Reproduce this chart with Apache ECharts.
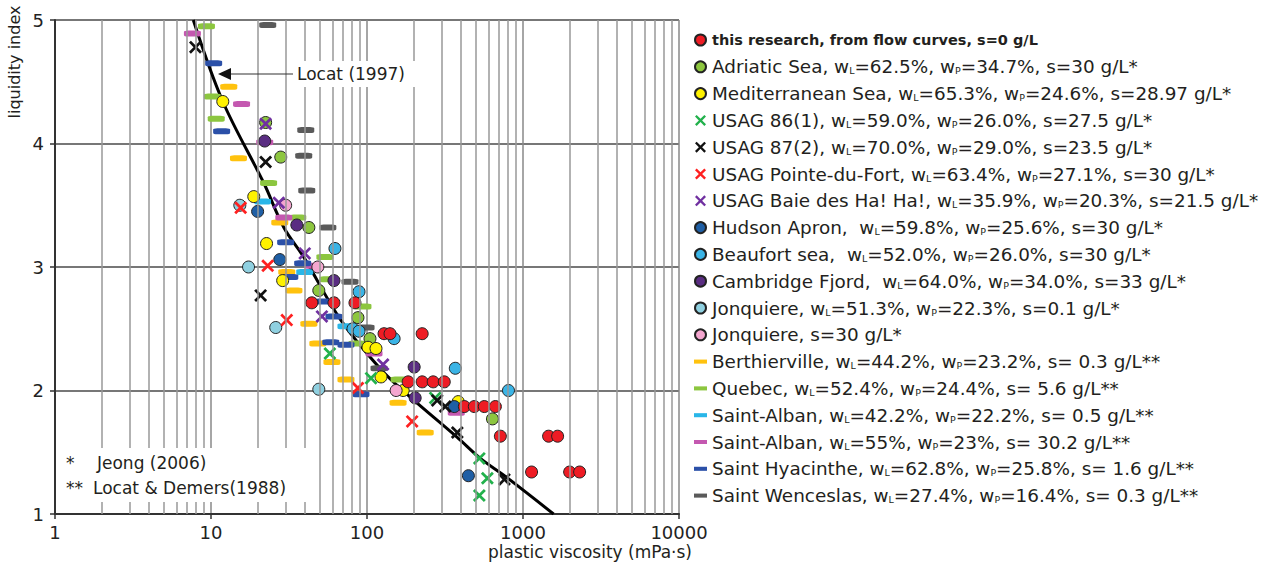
<!DOCTYPE html>
<html>
<head>
<meta charset="utf-8">
<script src="https://cdn.jsdelivr.net/npm/echarts@6/dist/echarts.min.js"></script>
<style>
  html, body { margin: 0; padding: 0; background: #fff; }
  #chart { width: 1266px; height: 566px; }
</style>
</head>
<body>
<div id="chart"></div>
<script>
var chart = echarts.init(document.getElementById('chart'), null, {renderer: 'svg'});

// points: [plastic viscosity (mPa.s), liquidity index]
var thisResearch = [[44.3,2.71],[61.4,2.71],[83.7,2.71],[128.6,2.46],[140.5,2.46],[225.8,2.46],
  [183.6,2.07],[225.8,2.07],[265.6,2.07],[312.8,2.07],[420.7,1.87],[487.5,1.87],[565,1.87],[665,1.87],
  [716,1.63],[1459,1.63],[1667,1.63],[1135,1.34],[1991,1.34],[2307,1.34]];
var adriatic = [[22.4,4.17],[28.0,3.89],[42.4,3.32],[49.1,2.81],[87.5,2.59],[104.5,2.42],[637,1.77]];
var mediterranean = [[11.9,4.34],[18.8,3.57],[22.7,3.19],[28.8,2.89],[101.5,2.35],[114.2,2.34],[123,2.11],[170.5,2.0],[384.6,1.91]];
var usag86 = [[57.8,2.30],[106.1,2.10],[273.6,1.94],[525,1.45],[591,1.29],[525,1.15]];
var usag87 = [[7.95,4.78],[22.4,3.85],[20.8,2.77],[281.9,1.92],[317.5,1.87],[379.3,1.66],[760,1.28]];
var pointeDuFort = [[15.5,3.48],[23.1,3.01],[30.6,2.57],[87.5,2.02],[194.7,1.75]];
var baieHaHa = [[22.4,4.16],[27.2,3.52],[39.9,3.11],[51.4,2.60],[126.8,2.21]];
var hudson = [[19.9,3.45],[27.6,3.06],[362.5,1.87],[446.7,1.31]];
var beaufort = [[62.3,3.15],[88.9,2.80],[81.3,2.50],[88.9,2.48],[149.2,2.42],[368.1,2.18],[807,2.0]];
var cambridge = [[22.1,4.02],[35.5,3.34],[61.4,2.89],[200.6,2.19],[203.6,1.94]];
var jonquiere1 = [[15.3,3.50],[17.4,3.00],[26.0,2.51],[49.1,2.01]];
var jonquiere30 = [[30.1,3.50],[48.4,3.00],[153.7,2.00]];
var berthierville = [[13.0,4.46],[15.0,3.88],[27.6,3.36],[30.6,2.96],[34.0,2.81],[42.4,2.54],[48.4,2.38],[59.6,2.23],[73.3,2.09],[158.2,1.90],[236.1,1.66]];
var quebec = [[9.35,4.95],[10.2,4.38],[10.8,4.20],[23.4,3.68],[36.0,3.40],[53.7,3.08],[56.1,2.90],[94.2,2.68],[86.2,2.38],[160.7,2.09]];
var albanLow = [[21.4,3.53],[39.9,2.96],[73.3,2.52]];
var albanHigh = [[7.6,4.89],[15.7,4.32],[22.1,4.01],[29.3,3.40],[45.0,3.01],[110.9,2.30],[373.4,1.82]];
var hyacinthe = [[10.4,4.65],[11.7,4.10],[30.1,3.20],[38.7,3.03],[32.0,2.92],[52.1,2.72],[61.4,2.60],[58.6,2.39],[73.3,2.37],[91.5,1.97]];
var wenceslas = [[23.1,4.96],[40.5,4.11],[39.3,3.90],[41.1,3.62],[56.1,3.32],[77.8,2.88],[98.6,2.51],[119.4,2.18]];
// Locat (1997) curve
var locatCurve = [[7.7,5.0],[11.9,4.34],[21.8,3.68],[29.3,3.32],[39.3,3.08],[68,2.57],[123,2.17],[184,1.96],[379,1.62],[533,1.45],[760,1.31],[1570,1.0]];
var minorLines = [2,3,4,5,6,7,8,9,20,30,40,50,60,70,80,90,200,300,400,500,600,700,800,900,2000,3000,4000,5000,6000,7000,8000,9000];

var names = [
  'this research, from flow curves, s=0 g/L',
  'Adriatic Sea, wL=62.5%, wP=34.7%, s=30 g/L*',
  'Mediterranean Sea, wL=65.3%, wP=24.6%, s=28.97 g/L*',
  'USAG 86(1), wL=59.0%, wP=26.0%, s=27.5 g/L*',
  'USAG 87(2), wL=70.0%, wP=29.0%, s=23.5 g/L*',
  'USAG Pointe-du-Fort, wL=63.4%, wP=27.1%, s=30 g/L*',
  'USAG Baie des Ha! Ha!, wL=35.9%, wP=20.3%, s=21.5 g/L*',
  'Hudson Apron,  wL=59.8%, wP=25.6%, s=30 g/L*',
  'Beaufort sea,  wL=52.0%, wP=26.0%, s=30 g/L*',
  'Cambridge Fjord,  wL=64.0%, wP=34.0%, s=33 g/L*',
  'Jonquiere, wL=51.3%, wP=22.3%, s=0.1 g/L*',
  'Jonquiere, s=30 g/L*',
  'Berthierville, wL=44.2%, wP=23.2%, s= 0.3 g/L**',
  'Quebec, wL=52.4%, wP=24.4%, s= 5.6 g/L**',
  'Saint-Alban, wL=42.2%, wP=22.2%, s= 0.5 g/L**',
  'Saint-Alban, wL=55%, wP=23%, s= 30.2 g/L**',
  'Saint Hyacinthe, wL=62.8%, wP=25.8%, s= 1.6 g/L**',
  'Saint Wenceslas, wL=27.4%, wP=16.4%, s= 0.3 g/L**'
];

var xSymbol = 'path://M1.5,0L5,3.5L8.5,0L10,1.5L6.5,5L10,8.5L8.5,10L5,6.5L1.5,10L0,8.5L3.5,5L0,1.5Z';
var dashIcon = 'path://M0,0H16V5H0Z';

function dots(name, data, color) {
  return {name: name, type: 'scatter', data: data, symbol: 'circle', symbolSize: 12,
    itemStyle: {color: color, borderColor: '#222', borderWidth: 1, opacity: 1}};
}
function cross(name, data, color) {
  return {name: name, type: 'scatter', data: data, symbol: xSymbol, symbolSize: 13,
    itemStyle: {color: color, opacity: 1}};
}
function dash(name, data, color) {
  return {name: name, type: 'scatter', data: data, symbol: 'roundRect', symbolSize: [17, 6],
    itemStyle: {color: color, opacity: 1}};
}

var series = [
  {type: 'line', data: [], silent: true, z: 0,
    markLine: {silent: true, symbol: ['none', 'none'], label: {show: false}, animation: false,
      lineStyle: {color: '#999', width: 1.5, type: 'solid'},
      data: minorLines.map(function (v) { return {xAxis: v}; })}},
  dash(names[12], berthierville, '#ffc20e'),
  dash(names[13], quebec, '#8cc63f'),
  dash(names[14], albanLow, '#29b6e8'),
  dash(names[15], albanHigh, '#c458b0'),
  dash(names[16], hyacinthe, '#2b50a8'),
  dash(names[17], wenceslas, '#5a5a5a'),
  {type: 'line', data: locatCurve, smooth: 0.35, showSymbol: false, silent: true, z: 3,
    lineStyle: {color: '#000', width: 3}},
  dots(names[1], adriatic, '#8dc63f'),
  dots(names[2], mediterranean, '#fff200'),
  dots(names[7], hudson, '#1f5fa5'),
  dots(names[8], beaufort, '#3ab4e6'),
  dots(names[9], cambridge, '#5a2d82'),
  dots(names[10], jonquiere1, '#8fd0e0'),
  dots(names[11], jonquiere30, '#f4a6cf'),
  cross(names[3], usag86, '#22b14c'),
  cross(names[4], usag87, '#111111'),
  cross(names[5], pointeDuFort, '#ff2020'),
  cross(names[6], baieHaHa, '#7030a0'),
  dots(names[0], thisResearch, '#ee1c24')
];
series.forEach(function (s) { if (s.type === 'scatter') { s.z = 4; } });

var legendData = names.map(function (n, i) {
  var item = {name: n};
  if (i === 0) { item.textStyle = {fontWeight: 'bold', fontSize: 14.5}; }
  if (i >= 12) { item.icon = dashIcon; }
  return item;
});

var font = 'DejaVu Sans';

var option = {
  animation: false,
  backgroundColor: '#fff',
  grid: {left: 55, top: 20, width: 624, height: 494},
  xAxis: {
    type: 'log', logBase: 10, min: 1, max: 10000,
    axisLine: {lineStyle: {color: '#333', width: 2}},
    axisTick: {show: true, length: 5, lineStyle: {color: '#333', width: 1.5}},
    axisLabel: {fontFamily: font, fontSize: 18, color: '#222', margin: 9,
      formatter: function (v) { return String(v); }},
    splitLine: {show: true, lineStyle: {color: '#888', width: 1.5}}
  },
  yAxis: {
    type: 'value', min: 1, max: 5, interval: 1,
    axisLine: {show: true, lineStyle: {color: '#333', width: 2}},
    axisTick: {show: true, length: 5, lineStyle: {color: '#333', width: 1.5}},
    axisLabel: {fontFamily: font, fontSize: 18, color: '#222', margin: 11},
    splitLine: {show: true, lineStyle: {color: '#777', width: 2}}
  },
  legend: {
    orient: 'vertical', left: 689, top: 26,
    itemWidth: 13, itemHeight: 11, itemGap: 8.8,
    data: legendData,
    textStyle: {fontFamily: font, fontSize: 18.4, color: '#231f20', lineHeight: 18,
      rich: {sub: {fontFamily: font, fontSize: 9.5, color: '#231f20', verticalAlign: 'bottom', lineHeight: 18}}},
    formatter: function (name) { return name.replace(/w([LP])=/g, 'w{sub|$1}='); }
  },
  graphic: [
    {type: 'rect', z: 100, shape: {x: 57, y: 448, width: 252, height: 54}, style: {fill: '#fff'}},
    {type: 'text', z: 101, style: {x: 66, y: 463, text: '*', font: '17px "DejaVu Sans"', fill: '#231f20', textVerticalAlign: 'middle'}},
    {type: 'text', z: 101, style: {x: 97, y: 463, text: 'Jeong (2006)', font: '17px "DejaVu Sans"', fill: '#231f20', textVerticalAlign: 'middle'}},
    {type: 'text', z: 101, style: {x: 66, y: 488, text: '**', font: '17px "DejaVu Sans"', fill: '#231f20', textVerticalAlign: 'middle'}},
    {type: 'text', z: 101, style: {x: 93, y: 488, text: 'Locat & Demers(1988)', font: '17px "DejaVu Sans"', fill: '#231f20', textVerticalAlign: 'middle'}},
    {type: 'rect', z: 100, shape: {x: 292, y: 61, width: 128, height: 26}, style: {fill: '#fff'}},
    {type: 'text', z: 101, style: {x: 297, y: 74, text: 'Locat (1997)', font: '17px "DejaVu Sans"', fill: '#231f20', textVerticalAlign: 'middle'}},
    {type: 'line', z: 101, shape: {x1: 293, y1: 74, x2: 226, y2: 74}, style: {stroke: '#333', lineWidth: 1.2}},
    {type: 'polygon', z: 101, shape: {points: [[218, 74], [231, 68], [231, 80]]}, style: {fill: '#111'}},
    {type: 'text', z: 101, rotation: Math.PI / 2, x: 14, y: 62,
      style: {text: 'liquidity index', font: '16px "DejaVu Sans"', fill: '#231f20', textAlign: 'center', textVerticalAlign: 'middle'}},
    {type: 'text', z: 101, style: {x: 590, y: 552, text: 'plastic viscosity (mPa\u00b7s)', font: '17px "DejaVu Sans"', fill: '#231f20', textAlign: 'center', textVerticalAlign: 'middle'}}
  ],
  series: series
};

chart.setOption(option);
</script>
</body>
</html>
